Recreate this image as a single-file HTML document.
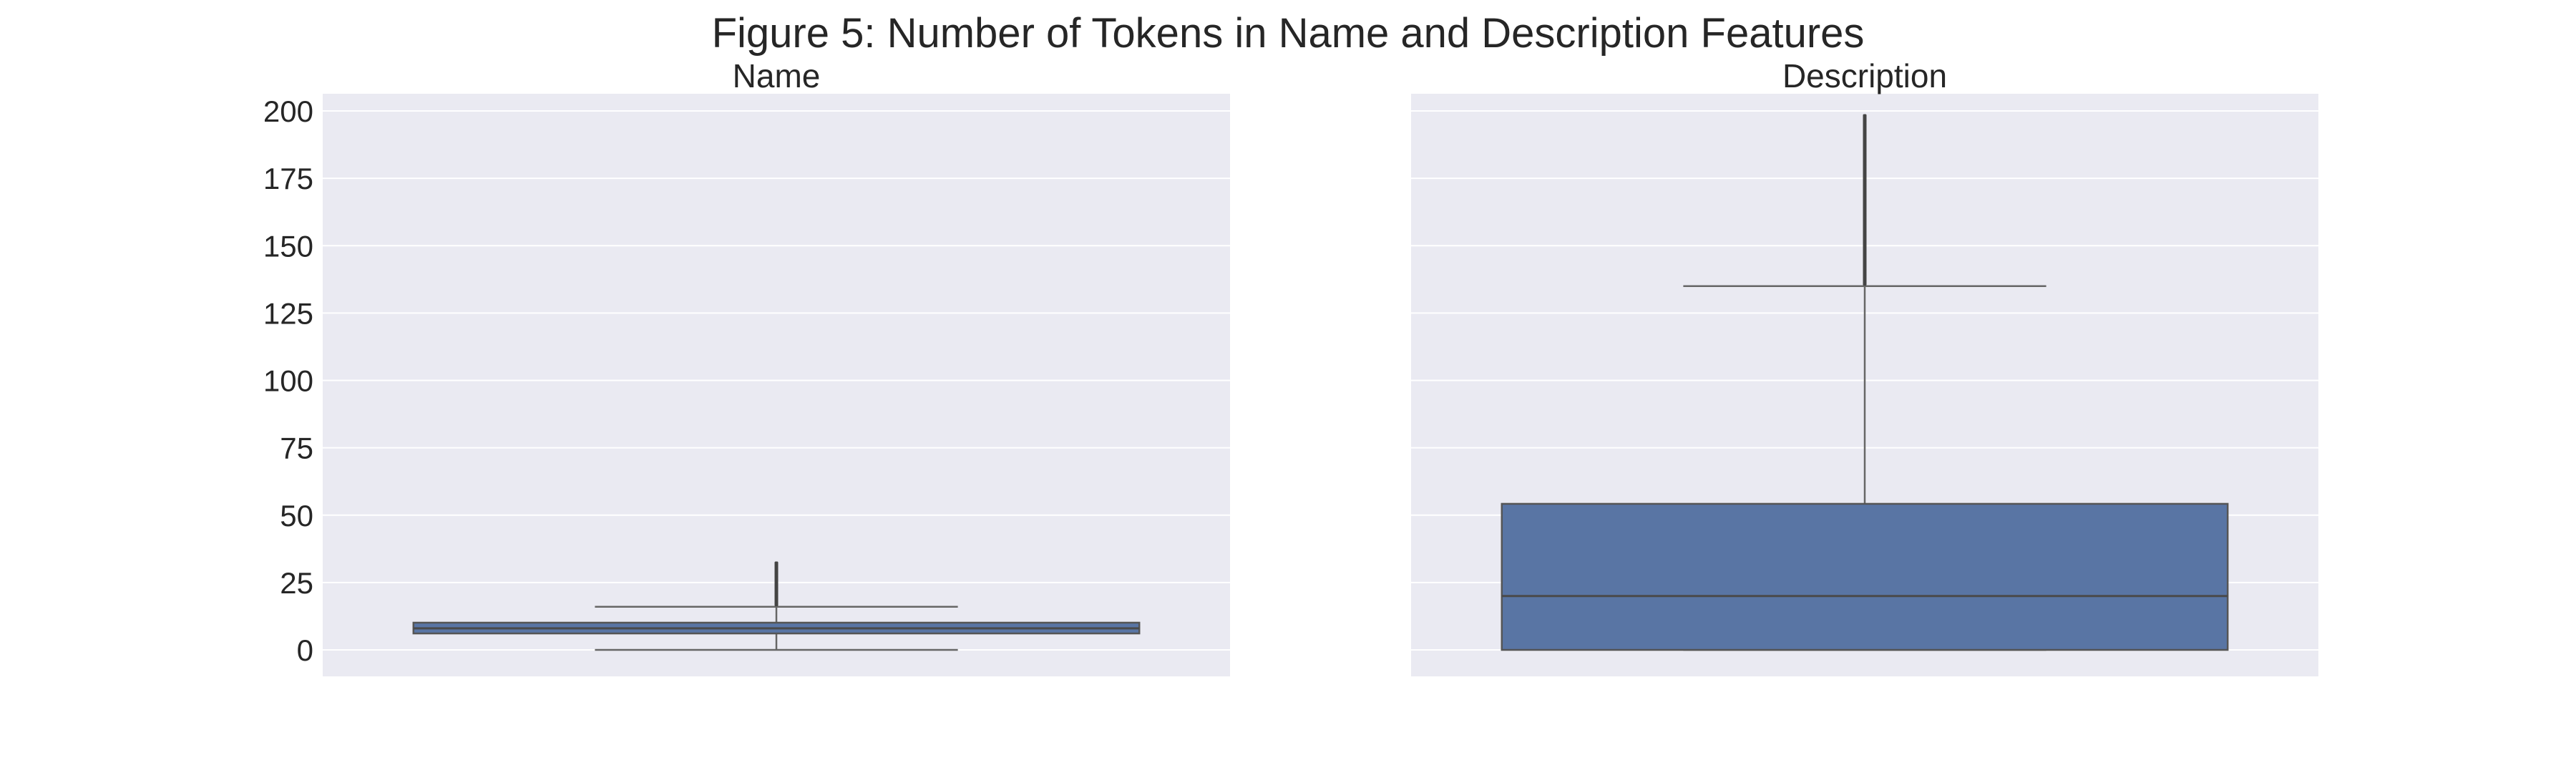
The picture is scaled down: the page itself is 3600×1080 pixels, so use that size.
<!DOCTYPE html>
<html><head><meta charset="utf-8"><style>
html,body{margin:0;padding:0;background:#fff;}
svg{display:block;font-family:"Liberation Sans",Arial,sans-serif;}
</style></head><body>
<svg id="fig" width="3600" height="1080" viewBox="0 0 3600 1080" xmlns="http://www.w3.org/2000/svg">
<rect width="3600" height="1080" fill="#fff"/>
<text x="1800" y="66" font-size="58" text-anchor="middle" fill="#262626">Figure 5: Number of Tokens in Name and Description Features</text>
<g id="plots"></g>
</svg>
<script>
const panels = ["Name", "Description"];
const whiskLow = [0, 0];
const q1 = [6.1, 0];
const median = [8, 20];
const q3 = [10.1, 54.2];
const whiskHigh = [16, 135];
const flierMin = [17, 136];
const flierMax = [32, 198];
const yTicks = [0, 25, 50, 75, 100, 125, 150, 175, 200];

const NS = "http://www.w3.org/2000/svg";
const root = document.getElementById("plots");
const axTop = 131, axBot = 945, axW = 1268;
const axLeft = [451, 1972];
const y0 = 908, pxPerUnit = 3.765;
function yScale(v){ return y0 - v * pxPerUnit; }
function mk(tag, attrs, parent){
  const e = document.createElementNS(NS, tag);
  for (const k in attrs) e.setAttribute(k, attrs[k]);
  (parent || root).appendChild(e);
  return e;
}

panels.forEach((name, i) => {
  const L = axLeft[i];
  const g = mk("g", {});
  
  
  const bg = mk("rect", {x: L, y: axTop, width: axW, height: axBot - axTop, fill: "#eaeaf2"}, g);
  
  
  yTicks.forEach(t => {
    const gl = mk("line", {x1: L, x2: L + axW, y1: yScale(t), y2: yScale(t), stroke: "#fff", "stroke-width": 2}, g);
    
    
    if (i === 0) {
      const tl = mk("text", {x: 438, y: yScale(t) + 15, "font-size": 42, "text-anchor": "end", fill: "#262626"}, g);
      tl.textContent = t;
      
      
    }
  });
  const title = mk("text", {x: L + axW / 2, y: 122, "font-size": 46, "text-anchor": "middle", fill: "#262626"}, g);
  title.textContent = name;
  
  

  const cx = L + axW / 2;
  const bx1 = L + 0.1 * axW, bx2 = L + 0.9 * axW;
  const cx1 = L + 0.3 * axW, cx2 = L + 0.7 * axW;
  const lc = "#666666";
  const w1 = mk("line", {x1: cx, x2: cx, y1: yScale(q3[i]), y2: yScale(whiskHigh[i]), stroke: lc, "stroke-width": 2.5}, g);
  
  
  const w2 = mk("line", {x1: cx, x2: cx, y1: yScale(q1[i]), y2: yScale(whiskLow[i]), stroke: lc, "stroke-width": 2.5}, g);
  
  
  const c1 = mk("line", {x1: cx1, x2: cx2, y1: yScale(whiskHigh[i]), y2: yScale(whiskHigh[i]), stroke: lc, "stroke-width": 2.5}, g);
  
  
  const c2 = mk("line", {x1: cx1, x2: cx2, y1: yScale(whiskLow[i]), y2: yScale(whiskLow[i]), stroke: lc, "stroke-width": 2.5}, g);
  
  
  const box = mk("rect", {x: bx1, y: yScale(q3[i]), width: bx2 - bx1, height: Math.max(1, yScale(q1[i]) - yScale(q3[i])), fill: "#5975a4", stroke: "#555555", "stroke-width": 2.5}, g);
  
  
  const md = mk("line", {x1: bx1, x2: bx2, y1: yScale(median[i]), y2: yScale(median[i]), stroke: "#4a4a4a", "stroke-width": 3}, g);
  
  
  for (let v = flierMin[i]; v <= flierMax[i]; v++) {
    const f = mk("rect", {x: cx - 2.5, y: yScale(v) - 3, width: 5, height: 6, rx: 1.5, fill: "#444444"}, g);
    
    
  }
});
</script>
</body></html>
